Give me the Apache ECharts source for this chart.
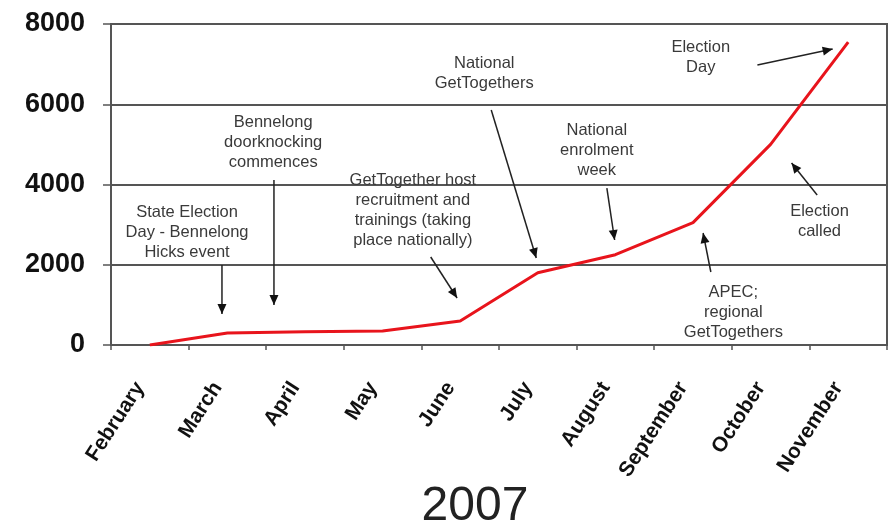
<!DOCTYPE html>
<html>
<head>
<meta charset="utf-8">
<script src="https://cdn.jsdelivr.net/npm/echarts@6/dist/echarts.min.js"></script>
<style>
html,body{margin:0;padding:0;background:#fff;}
#chart{width:894px;height:528px;}
</style>
</head>
<body>
<div id="chart"></div>
<script>
// Data
var months = ['February','March','April','May','June','July','August','September','October','November'];
var members = [0, 300, 330, 350, 600, 1800, 2250, 3050, 5000, 7550];
var yTicks = [0, 2000, 4000, 6000, 8000];
var yearLabel = '2007';

// Annotations in data space: [categoryIndex, value]
var annTexts = [
  'State Election\nDay - Bennelong\nHicks event',
  'Bennelong\ndoorknocking\ncommences',
  'GetTogether host\nrecruitment and\ntrainings (taking\nplace nationally)',
  'National\nGetTogethers',
  'National\nenrolment\nweek',
  'Election\nDay',
  'Election\ncalled',
  'APEC;\nregional\nGetTogethers'
];
var annTextPos = [[0.48, 2816], [1.59, 5059], [3.39, 3364], [4.31, 6778], [5.76, 4859], [7.10, 7177], [8.63, 3090], [7.52, 822]];
var annArrowFrom = [[0.93, 1994], [1.60, 4112], [3.62, 2193], [4.40, 5856], [5.89, 3912], [7.83, 6978], [8.60, 3738], [7.23, 1819]];
var annArrowTo = [[0.93, 772], [1.60, 997], [3.96, 1171], [4.98, 2168], [5.99, 2617], [8.80, 7376], [8.27, 4535], [7.13, 2791]];

var FONT = '"Liberation Sans", Arial, Helvetica, sans-serif';
var chart = echarts.init(document.getElementById('chart'));

var option = {
  animation: false,
  backgroundColor: '#fff',
  title: {
    text: yearLabel,
    left: 470,
    textAlign: 'center',
    top: 478,
    textStyle: { fontFamily: FONT, fontSize: 48, fontWeight: 'normal', color: '#222' }
  },
  grid: {
    left: 111, right: 7, top: 24, bottom: 183,
    show: true, borderColor: '#555', borderWidth: 2, backgroundColor: 'transparent'
  },
  xAxis: {
    type: 'category',
    data: months,
    boundaryGap: true,
    axisLine: { lineStyle: { color: '#555', width: 2 } },
    axisTick: { show: true, length: 5, lineStyle: { color: '#555', width: 1.5 } },
    axisLabel: {
      rotate: 57, margin: 24, interval: 0,
      padding: [0, 18, 0, 0],
      fontFamily: FONT, fontSize: 21, fontWeight: 'bold', color: '#111'
    }
  },
  yAxis: {
    type: 'value',
    min: yTicks[0], max: yTicks[yTicks.length - 1], interval: 2000,
    axisLine: { show: true, lineStyle: { color: '#555', width: 2 } },
    axisTick: { show: true, length: 8, lineStyle: { color: '#555', width: 1.5 } },
    splitLine: { show: true, lineStyle: { color: '#555', width: 2 } },
    axisLabel: {
      margin: 26, fontFamily: FONT, fontSize: 27, fontWeight: 'bold', color: '#111',
      formatter: function (v) { return String(v); }
    }
  },
  series: [{
    type: 'line',
    data: members,
    symbol: 'none',
    lineStyle: { color: '#e8141c', width: 3 },
    z: 3
  }]
};
chart.setOption(option);

function toPx(p) {
  var a = chart.convertToPixel({ xAxisIndex: 0 }, 0);
  var b = chart.convertToPixel({ xAxisIndex: 0 }, 1);
  var y = chart.convertToPixel({ yAxisIndex: 0 }, p[1]);
  return [a + (b - a) * p[0], y];
}

var graphics = [];
for (var i = 0; i < annTexts.length; i++) {
  var t = toPx(annTextPos[i]);
  graphics.push({
    type: 'text',
    x: t[0], y: t[1],
    style: {
      text: annTexts[i],
      fontFamily: FONT, fontSize: 16.5, lineHeight: 20,
      fill: '#3a3a3a', align: 'center', verticalAlign: 'middle'
    },
    z: 10
  });
  var f = toPx(annArrowFrom[i]);
  var e = toPx(annArrowTo[i]);
  graphics.push({
    type: 'line',
    shape: { x1: f[0], y1: f[1], x2: e[0], y2: e[1] },
    style: { stroke: '#222', lineWidth: 1.5 },
    z: 10
  });
  var ang = Math.atan2(e[1] - f[1], e[0] - f[0]);
  var L = 10, W = 4.5;
  var bx = e[0] - L * Math.cos(ang), by = e[1] - L * Math.sin(ang);
  var px = -Math.sin(ang) * W, py = Math.cos(ang) * W;
  graphics.push({
    type: 'polygon',
    shape: { points: [[e[0], e[1]], [bx + px, by + py], [bx - px, by - py]] },
    style: { fill: '#111' },
    z: 10
  });
}
chart.setOption({ graphic: graphics });
</script>
</body>
</html>
